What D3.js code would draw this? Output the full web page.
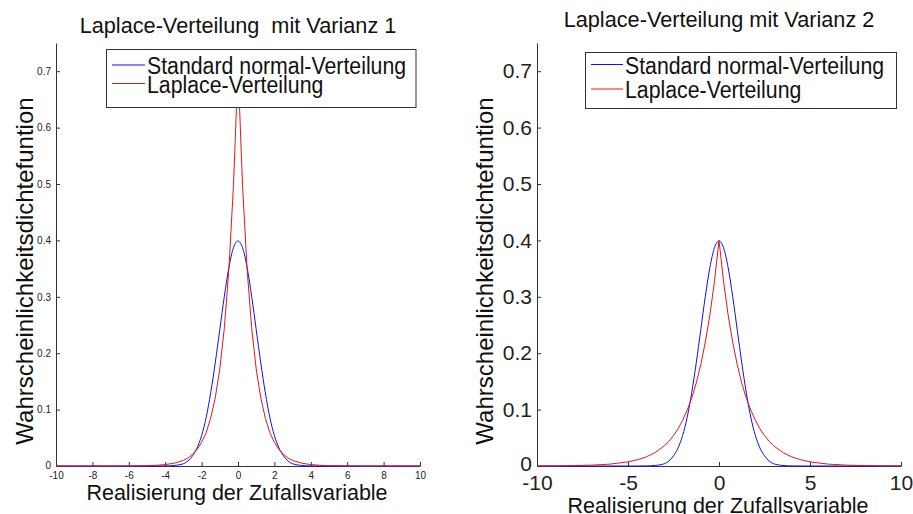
<!DOCTYPE html>
<html>
<head>
<meta charset="utf-8">
<script src="https://cdn.jsdelivr.net/npm/d3@7"></script>
<style>
  body { margin: 0; background: #fff; }
  svg { display: block; font-family: "Liberation Sans", Arial, sans-serif; }
  .axis path, .axis line { stroke: #333; }
  .axis text { fill: #222; }
</style>
</head>
<body>
<svg id="chart" width="913" height="514"></svg>
<script>
// Sample positions on the x axis (shared by all curves)
const xGrid = [-10, -9, -8, -7, -6, -5, -4.5, -4, -3.5, -3, -2.75, -2.5, -2.25, -2, -1.75, -1.5, -1.25, -1, -0.75, -0.5, -0.25,
  0, 0.25, 0.5, 0.75, 1, 1.25, 1.5, 1.75, 2, 2.25, 2.5, 2.75, 3, 3.5, 4, 4.5, 5, 6, 7, 8, 9, 10];

// Standard normal density (blue, both panels)
const normalValues = [0, 0, 0, 0, 0, 0, 0, 0.0001, 0.001, 0.004, 0.009, 0.018, 0.032, 0.054, 0.086, 0.130, 0.183, 0.242, 0.301, 0.352, 0.387,
  0.399, 0.387, 0.352, 0.301, 0.242, 0.183, 0.130, 0.086, 0.054, 0.032, 0.018, 0.009, 0.004, 0.001, 0.0001, 0, 0, 0, 0, 0, 0, 0];

// Laplace density, left panel (red)
const laplaceLeft = [0, 0, 0, 0, 0.0001, 0.0006, 0.0012, 0.0025, 0.005, 0.010, 0.014, 0.021, 0.029, 0.042, 0.059, 0.085, 0.121, 0.172, 0.245, 0.349, 0.497,
  0.707, 0.497, 0.349, 0.245, 0.172, 0.121, 0.085, 0.059, 0.042, 0.029, 0.021, 0.014, 0.010, 0.005, 0.0025, 0.0012, 0.0006, 0.0001, 0, 0, 0, 0];

// Laplace density, right panel (red)
const laplaceRight = [0.0001, 0.0002, 0.0007, 0.0015, 0.0033, 0.0073, 0.011, 0.016, 0.024, 0.036, 0.044, 0.054, 0.066, 0.081, 0.099, 0.120, 0.147, 0.180, 0.220, 0.268, 0.327,
  0.400, 0.327, 0.268, 0.220, 0.180, 0.147, 0.120, 0.099, 0.081, 0.066, 0.054, 0.044, 0.036, 0.024, 0.016, 0.011, 0.0073, 0.0033, 0.0015, 0.0007, 0.0002, 0.0001];

const yTicks = [0, 0.1, 0.2, 0.3, 0.4, 0.5, 0.6, 0.7];
const xTicksLeft = [-10, -8, -6, -4, -2, 0, 2, 4, 6, 8, 10];
const xTicksRight = [-10, -5, 0, 5, 10];
const legendLabels = ['Standard normal-Verteilung', 'Laplace-Verteilung'];
const seriesColors = ['#1010e0', '#e01818'];

const svg = d3.select('#chart');

function drawPanel(cfg) {
  const x = d3.scaleLinear().domain([-10, 10]).range([cfg.left, cfg.right]);
  const y = d3.scaleLinear().domain([0, 0.75]).range([466, 43]);

  const g = svg.append('g');

  // Axes (left and bottom only, ticks pointing inward), plain hyphen for minus
  g.append('g')
    .attr('class', 'axis')
    .attr('transform', `translate(0,${y(0)})`)
    .call(d3.axisBottom(x).tickValues(cfg.xTicks).tickSizeInner(-4).tickSizeOuter(0).tickPadding(cfg.xPad).tickFormat(d => String(d)))
    .call(a => a.selectAll('text').style('font-size', cfg.tickFont + 'px'));

  g.append('g')
    .attr('class', 'axis')
    .attr('transform', `translate(${x(-10)},0)`)
    .call(d3.axisLeft(y).tickValues(yTicks).tickSizeInner(-4).tickSizeOuter(0).tickPadding(cfg.yPad).tickFormat(d => d === 0 ? '0' : d3.format('.1f')(d)))
    .call(a => a.selectAll('text').style('font-size', cfg.tickFont + 'px'))
    .call(a => a.selectAll('.tick').filter(d => d === 0).select('text').attr('dy', cfg.zeroDy));

  // Curves
  const normalLine = d3.line().x((d, i) => x(xGrid[i])).y(d => y(d)).curve(d3.curveMonotoneX);
  const laplaceLine = d3.line().x((d, i) => x(xGrid[i])).y(d => y(d));

  g.append('path')
    .datum(normalValues)
    .attr('fill', 'none')
    .attr('stroke', seriesColors[0])
    .attr('stroke-width', 1)
    .attr('d', normalLine);

  g.append('path')
    .datum(cfg.laplace)
    .attr('fill', 'none')
    .attr('stroke', seriesColors[1])
    .attr('stroke-width', 1)
    .attr('d', laplaceLine);

  // Title
  const cx = (cfg.left + cfg.right) / 2;
  g.append('text')
    .attr('x', cx)
    .attr('y', cfg.titleY)
    .attr('text-anchor', 'middle')
    .style('font-size', '21.7px')
    .attr('fill', '#111')
    .attr('xml:space', 'preserve')
    .text(cfg.title);

  // X label
  g.append('text')
    .attr('x', cx - 1)
    .attr('y', cfg.xLabelY)
    .attr('text-anchor', 'middle')
    .style('font-size', '21.5px')
    .attr('fill', '#111')
    .text('Realisierung der Zufallsvariable');

  // Y label
  g.append('text')
    .attr('transform', `translate(${cfg.yLabelX},271) rotate(-90)`)
    .attr('text-anchor', 'middle')
    .style('font-size', '24px')
    .attr('fill', '#111')
    .text('Wahrscheinlichkeitsdichtefuntion');

  // Legend
  const lg = g.append('g');
  lg.append('rect')
    .attr('x', cfg.legend.x0)
    .attr('y', cfg.legend.y0)
    .attr('width', cfg.legend.x1 - cfg.legend.x0)
    .attr('height', cfg.legend.y1 - cfg.legend.y0)
    .attr('fill', '#fff')
    .attr('stroke', '#333');

  legendLabels.forEach((lab, i) => {
    const ly = cfg.legend.rows[i];
    lg.append('line')
      .attr('x1', cfg.legend.lx0).attr('x2', cfg.legend.lx1)
      .attr('y1', ly).attr('y2', ly)
      .attr('stroke', seriesColors[i]);
    lg.append('text')
      .attr('transform', `translate(${cfg.legend.lx1 + 2},${ly + 9}) scale(1,1.15)`)
      .style('font-size', '21.3px')
      .attr('fill', '#111')
      .text(lab);
  });
}

drawPanel({
  left: 56, right: 420, xTicks: xTicksLeft, tickFont: 10, xPad: 6, yPad: 5, zeroDy: '0.2em',
  laplace: laplaceLeft,
  title: 'Laplace-Verteilung  mit Varianz 1', titleY: 33,
  xLabelY: 500, yLabelX: 33,
  legend: { x0: 106.5, x1: 416, y0: 49.5, y1: 107.5, lx0: 112, lx1: 145, rows: [65, 83.5] }
});

drawPanel({
  left: 537, right: 901, xTicks: xTicksRight, tickFont: 21, xPad: 9, yPad: 5, zeroDy: '0.2em',
  laplace: laplaceRight,
  title: 'Laplace-Verteilung mit Varianz 2', titleY: 27,
  xLabelY: 513, yLabelX: 493,
  legend: { x0: 585.5, x1: 896.5, y0: 52.5, y1: 108.5, lx0: 591, lx1: 623, rows: [64.5, 89] }
});
</script>
</body>
</html>
